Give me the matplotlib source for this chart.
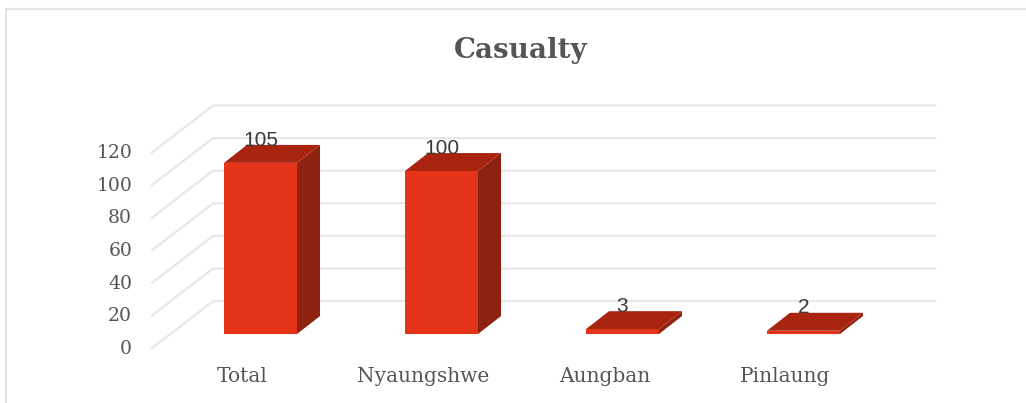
import matplotlib
matplotlib.use('Agg')
import matplotlib.pyplot as plt
import numpy as np

categories = ['Total', 'Nyaungshwe', 'Aungban', 'Pinlaung']
values = [105, 100, 3, 2]
ticks = [0, 20, 40, 60, 80, 100, 120]

RED = '#E5341A'
DARK = '#8E2210'
TOPC = '#A8240F'
GREY = '#555555'
GRID = '#E6E8E8'

fig = plt.figure(figsize=(10.26, 4.03), dpi=100)
ax = fig.add_axes([0, 0, 1, 1])

# 181 px per category, 1.63 px per value
ax.set_xlim(-260.5/181, (1026-260.5)/181)
ax.set_ylim((334-403)/1.63, 334/1.63)
ax.axis('off')

x = np.arange(len(categories))
w = 73/181
dx = 23/181   # bar depth
dy = 11
fx, fy = -0.599, -8.6   # front end of gridline at value 0
bx, by = -0.262, 20.2   # back end
rx = 3.727

for t in ticks:
    ax.plot([fx, bx, rx], [fy+t, by+t, by+t], color=GRID, lw=1.6, zorder=1)
    ax.text(fx-0.11, fy+t-0.5, str(t), ha='right', va='center', color=GREY,
            family='DejaVu Serif', fontsize=13.5)

ax.bar(x, values, width=w, color=RED, zorder=3)
for i, v in zip(x, values):
    r = i+w/2
    l = i-w/2
    ax.fill([r, r+dx, r+dx, r], [0, dy, v+dy, v], color=DARK, lw=0, zorder=3)
    ax.fill([l, l+dx, r+dx, r], [v, v+dy, v+dy, v], color=TOPC, lw=0, zorder=3)
    ax.text(i, v+14, str(v), ha='center', va='center', color='#3A3A3A',
            family='Liberation Sans', fontsize=15, zorder=4)
    ax.text(i-0.1, -26, categories[i], ha='center', va='center', color=GREY,
            family='DejaVu Serif', fontsize=14.5)

fig.text(521/1026, 1-50/403, 'Casualty', ha='center', va='center', color=GREY,
         family='DejaVu Serif', fontweight='bold', fontsize=20)

# chart frame
fig.add_artist(plt.Line2D([6/1026, 6/1026, 1], [0, 1-9/403, 1-9/403], color='#E2E2E2', lw=1.5))

fig.savefig('out.png', dpi=100)
